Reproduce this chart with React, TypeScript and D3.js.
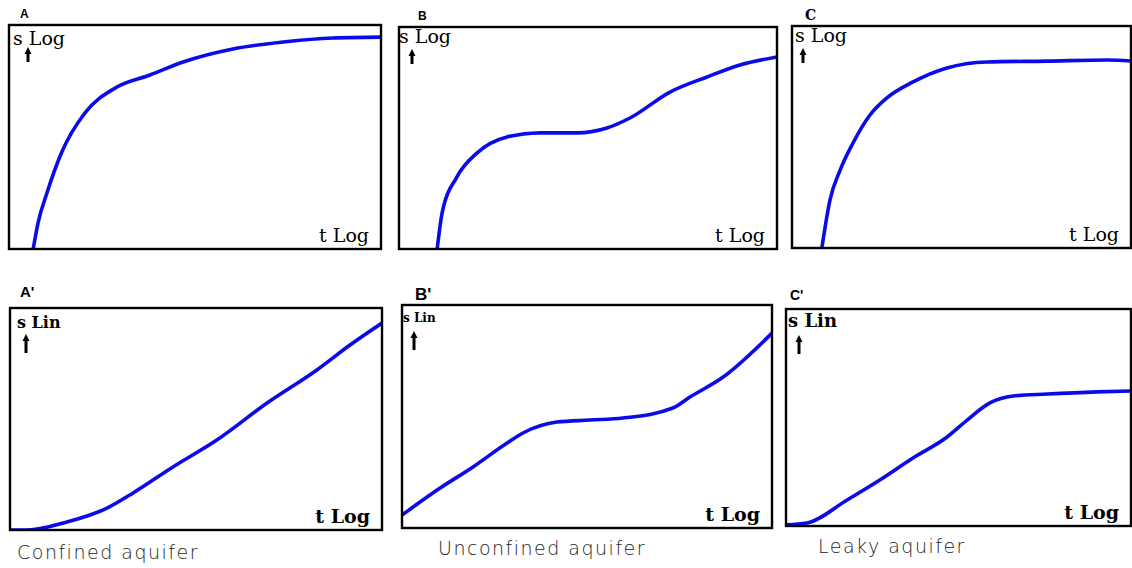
import * as d3 from 'd3'

// normalized time (0-100, log axis) and drawdown (0-100)
const tA = [6.5, 7.8, 10.2, 14.2, 20.4, 29, 37.9, 46.8, 60.2, 73.7, 87.1, 100]
const sA = [0, 11.6, 25, 43.3, 60.7, 72.3, 77.7, 83.5, 89.3, 92.4, 94.2, 94.6]

const tB = [10.1, 11.4, 15.3, 20.6, 28.6, 37.3, 47.1, 55, 61.1, 71.7, 81.5, 90.2, 100]
const sB = [0, 16.2, 32.4, 43.2, 50.5, 52.3, 52.3, 54.5, 59, 70.7, 77.5, 82.9, 86.5]

const tC = [8.8, 11.2, 14.2, 18, 23, 28, 35.7, 45.7, 57.5, 75.2, 92.9, 100]
const sC = [0, 21.6, 35.1, 47.3, 59.9, 67.6, 74.8, 81.1, 83.8, 84.2, 84.7, 84.2]

const tA2 = [0, 4.6, 15.3, 26.1, 33.1, 43.8, 55.6, 69.1, 82.5, 91.4, 100]
const sA2 = [0, 0, 3.6, 9.9, 16.7, 28.4, 40.5, 57.2, 72.1, 83.3, 93.2]

const tB2 = [0, 10.3, 19.2, 28.4, 32.7, 41.9, 50.8, 59.7, 73.2, 77.8, 86.8, 100]
const sB2 = [5.8, 17.9, 27.4, 38.1, 42.6, 47.5, 48.4, 49.3, 53.8, 58.7, 67.7, 87.4]

const tC2 = [0, 6.1, 17.7, 27.2, 36.8, 46.7, 52.5, 59.1, 65.8, 75.7, 90.1, 100]
const sC2 = [0.5, 1.4, 12, 21.2, 31.3, 41, 48.8, 56.7, 59.9, 60.8, 61.8, 62.2]

const panelNames = ['A', 'B', 'C', "A'", "B'", "C'"]
const yLabels = ['s Log', 's Log', 's Log', 's Lin', 's Lin', 's Lin']
const xLabel = 't Log'
const captions = ['Confined aquifer', 'Unconfined aquifer', 'Leaky aquifer']

const series = [
  [tA, sA], [tB, sB], [tC, sC], [tA2, sA2], [tB2, sB2], [tC2, sC2],
]

// layout of each frame in the figure
const boxes = [
  { x: 9, y: 25, w: 372, h: 224 },
  { x: 399, y: 27, w: 378, h: 222 },
  { x: 792, y: 26, w: 339, h: 222 },
  { x: 10, y: 308, w: 372, h: 222 },
  { x: 402, y: 305, w: 370, h: 223 },
  { x: 786, y: 309, w: 345, h: 217 },
]

const nameStyle = [
  { dx: 11, dy: -7, size: 12, family: 'Liberation Sans, Arial, sans-serif' },
  { dx: 19, dy: -7, size: 12, family: 'Liberation Sans, Arial, sans-serif' },
  { dx: 13, dy: -6, size: 14, family: 'DejaVu Serif, serif' },
  { dx: 10, dy: -11, size: 15, family: 'Liberation Sans, Arial, sans-serif' },
  { dx: 13, dy: -5, size: 17, family: 'Liberation Sans, Arial, sans-serif' },
  { dx: 4, dy: -9, size: 14, family: 'Liberation Sans, Arial, sans-serif' },
]

const yLabStyle = [
  { dx: 4, dy: 20, size: 19, weight: 'normal' },
  { dx: 0, dy: 16, size: 19, weight: 'normal' },
  { dx: 3, dy: 16, size: 19, weight: 'normal' },
  { dx: 7, dy: 20, size: 16, weight: 'bold' },
  { dx: 1, dy: 17, size: 12, weight: 'bold' },
  { dx: 2, dy: 18, size: 18, weight: 'bold' },
]

const arrowX = [19, 13, 11, 16, 12, 13]
const captionPos = [{ x: 17, y: 559 }, { x: 438, y: 555 }, { x: 818, y: 553 }]

function Arrow({ x, y1, y2 }: { x: number; y1: number; y2: number }) {
  return (
    <g>
      <line x1={x} x2={x} y1={y1 + 5} y2={y2} stroke="#000" strokeWidth={3} />
      <path d={`M${x - 3.5},${y1 + 7} L${x},${y1} L${x + 3.5},${y1 + 7} Z`} fill="#000" />
    </g>
  )
}

export default function App() {
  return (
    <svg width={1132} height={568} style={{ position: 'absolute', left: 0, top: 0, background: '#fff' }}>
      <defs>
        {boxes.map((b, i) => (
          <clipPath id={`clip${i}`} key={i}>
            <rect x={b.x} y={b.y} width={b.w} height={b.h} />
          </clipPath>
        ))}
      </defs>
      {boxes.map((b, i) => {
        const x = d3.scaleLinear().domain([0, 100]).range([b.x, b.x + b.w])
        const y = d3.scaleLinear().domain([0, 100]).range([b.y + b.h, b.y])
        const [ts, ss] = series[i]
        const pts = ts.map((t, k) => [t, ss[k]] as [number, number])
        const line = d3.line<[number, number]>()
          .x(d => x(d[0]))
          .y(d => y(d[1]))
          .curve(d3.curveMonotoneX)
        const bottomRow = i >= 3
        const ns = nameStyle[i]
        const ys = yLabStyle[i]
        const arrTop = b.y + (bottomRow ? 26 : 22)
        return (
          <g key={i}>
            <text x={b.x + ns.dx} y={b.y + ns.dy} fontSize={ns.size} fontWeight="bold"
              fontFamily={ns.family} fill="#000">{panelNames[i]}</text>
            <path d={line(pts) || ''} fill="none" stroke="#0b0bea" strokeWidth={3.6}
              strokeLinecap="round" strokeLinejoin="round" clipPath={`url(#clip${i})`} />
            <rect x={b.x} y={b.y} width={b.w} height={b.h} fill="none" stroke="#000" strokeWidth={2.4} />
            <text x={b.x + ys.dx} y={b.y + ys.dy} fontSize={ys.size} fontWeight={ys.weight}
              fontFamily="DejaVu Serif, serif" fill="#000">{yLabels[i]}</text>
            <Arrow x={b.x + arrowX[i]} y1={arrTop} y2={arrTop + (bottomRow ? 19 : 15)} />
            <text x={b.x + b.w - 12} y={b.y + b.h - 7} textAnchor="end"
              fontSize={19} fontWeight={bottomRow ? 'bold' : 'normal'}
              fontFamily="DejaVu Serif, serif" fill="#000">{xLabel}</text>
          </g>
        )
      })}
      {captions.map((c, i) => (
        <text key={c} x={captionPos[i].x} y={captionPos[i].y} fontSize={19} fontWeight={200}
          letterSpacing={1.5} fontFamily="DejaVu Sans, sans-serif" fill="#222">{c}</text>
      ))}
    </svg>
  )
}
